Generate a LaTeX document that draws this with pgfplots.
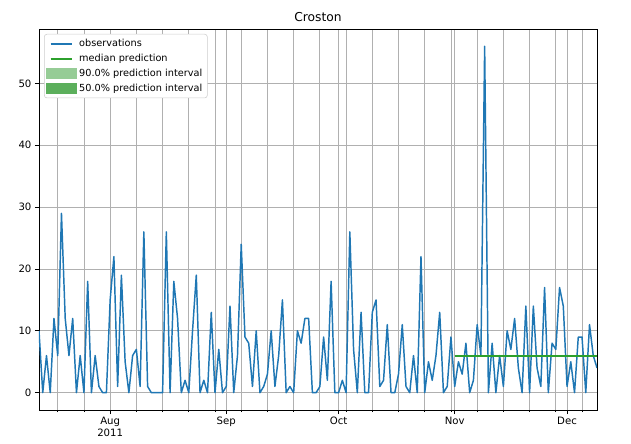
\documentclass[border=0pt]{standalone}
\usepackage{pgfplots}
\pgfplotsset{compat=1.18}
\usepackage{pgfplotstable}
\usepackage{fontspec}
\setmainfont{DejaVu Sans}
\definecolor{cObs}{HTML}{1F77B4}
\definecolor{cMed}{HTML}{2CA02C}
\definecolor{cNinety}{HTML}{96CC96}
\definecolor{cFifty}{HTML}{5CAF5C}
\definecolor{cGrid}{HTML}{B0B0B0}

% day 0 = 2011-08-01
\pgfplotstableread{
d v
-19 10
-18 0
-17 6
-16 0
-15 12
-14 6
-13 29
-12 12
-11 6
-10 12
-9 0
-8 6
-7 0
-6 18
-5 0
-4 6
-3 1
-2 0
-1 0
0 15
1 22
2 1
3 19
4 5
5 0
6 6
7 7
8 1
9 26
10 1
11 0
12 0
13 0
14 0
15 26
16 0
17 18
18 12
19 0
20 2
21 0
22 10
23 19
24 0
25 2
26 0
27 13
28 0
29 7
30 0
31 1
32 14
33 0
34 6
35 24
36 9
37 8
38 1
39 10
40 0
41 1
42 3
43 10
44 1
45 6
46 15
47 0
48 1
49 0
50 10
51 8
52 12
53 12
54 0
55 0
56 1
57 9
58 2
59 18
60 0
61 0
62 2
63 0
64 26
65 7
66 0
67 13
68 0
69 0
70 13
71 15
72 1
73 2
74 11
75 0
76 0
77 3
78 11
79 1
80 0
81 6
82 0
83 22
84 0
85 5
86 2
87 6
88 13
89 0
90 1
91 9
92 1
93 5
94 3
95 8
96 0
97 2
98 11
99 6
100 56
101 0
102 8
103 0
104 6
105 1
106 10
107 7
108 12
109 4
110 0
111 14
112 0
113 14
114 4
115 1
116 17
117 0
118 8
119 7
120 17
121 14
122 1
123 5
124 0
125 9
126 9
127 0
128 11
129 6
130 4
}\obsdata

\pgfplotstableread{
d v
92 6
100 6
110 6
120 6
130 6
}\meddata

\begin{document}
\begin{tikzpicture}
\useasboundingbox (-29.25pt,-24.75pt) rectangle (444pt,307.5pt);
\begin{axis}[
  at={(0,0)}, anchor=south west,
  scale only axis,
  width=418.5pt, height=285.75pt,
  xmin=-19, xmax=130,
  ymin=-2.8, ymax=58.8,
  xtick={0,31,61,92,122},
  xticklabels={Aug\\2011,Sep,Oct,Nov,Dec},
  minor xtick={-14,-7,7,14,21,28,35,42,49,56,63,70,77,84,91,98,105,112,119,126},
  ytick={0,10,20,30,40,50},
  xtick pos=bottom, ytick pos=left,
  tick align=outside,
  major tick length=3pt,
  minor tick length=1.6pt,
  tick style={black, line width=0.6pt},
  xmajorgrids, xminorgrids, ymajorgrids,
  major grid style={cGrid, line width=0.6pt},
  minor grid style={cGrid, line width=0.6pt},
  axis line style={black, line width=0.7pt},
  tick label style={font=\fontsize{7.6}{9}\selectfont},
  x tick label style={align=center, inner sep=2pt},
  y tick label style={inner sep=2.5pt},
  /pgf/number format/assume math mode=true,
  title={Croston},
  every axis title/.style={font=\fontsize{9.2}{11}\selectfont, at={(0.5,1)}, anchor=south, yshift=2pt},
  legend cell align=left,
  legend style={at={(0.009,0.987)}, anchor=north west,
    draw=black!20, rounded corners=2pt, fill=white,
    font=\fontsize{7.3}{8.8}\selectfont, inner sep=1.5pt, row sep=0.2pt,
    nodes={inner xsep=2.3pt}},
]
\addplot[draw=cObs, line width=1.1pt, line join=round, forget plot] table[x=d,y=v] {\obsdata};
\addplot[draw=cMed, line width=1.5pt, line join=round, forget plot] table[x=d,y=v] {\meddata};
\addlegendimage{legend image code/.code={\draw[draw=cObs, line width=1.5pt, sharp corners] (0pt,0pt) -- (16pt,0pt);}}
\addlegendentry{observations}
\addlegendimage{legend image code/.code={\draw[draw=cMed, line width=1.5pt, sharp corners] (0pt,0pt) -- (16pt,0pt);}}
\addlegendentry{median prediction}
\addlegendimage{legend image code/.code={\fill[cNinety, sharp corners] (-3pt,-3.8pt) rectangle (19pt,3.8pt);}}
\addlegendentry{90.0\% prediction interval}
\addlegendimage{legend image code/.code={\fill[cFifty, sharp corners] (-3pt,-3.8pt) rectangle (19pt,3.8pt);}}
\addlegendentry{50.0\% prediction interval}
\end{axis}
\end{tikzpicture}
\end{document}
